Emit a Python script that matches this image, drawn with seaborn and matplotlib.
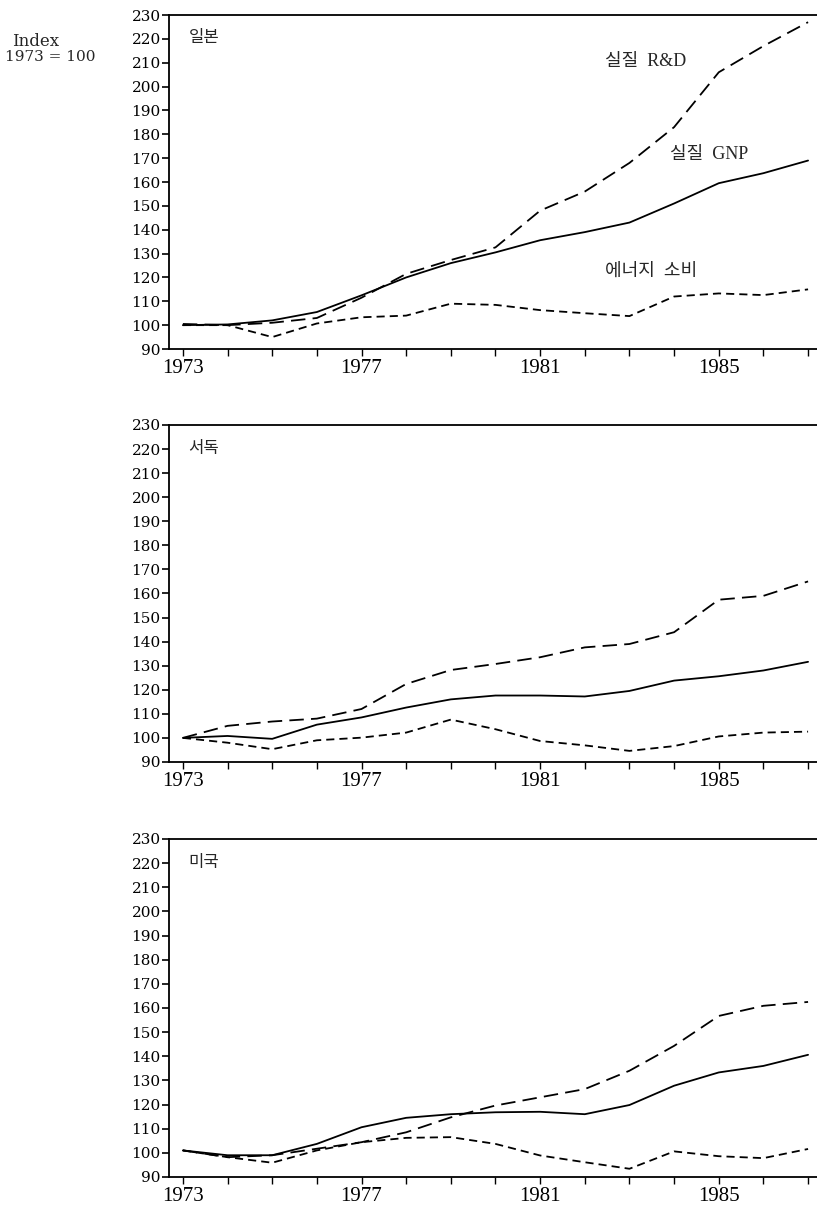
import matplotlib
matplotlib.use("Agg")
import matplotlib.pyplot as plt
import seaborn as sns
import pandas as pd

# Annual index values, 1973 = 100
years = list(range(1973, 1988))

japan_gnp = [100, 100.3, 102, 105.5, 112.5, 120, 126, 130.5, 135.6, 139, 143, 151, 159.5, 163.7, 169]
japan_rnd = [100.5, 100, 101, 103, 111.5, 121.5, 127.3, 132.6, 148, 156, 168, 183, 206, 217, 227]
japan_energy = [100, 100, 95, 100.7, 103.3, 104, 109, 108.5, 106.3, 105, 103.8, 112, 113.3, 112.6, 115]

wgermany_gnp = [100, 100.8, 99.6, 105.5, 108.5, 112.6, 116, 117.6, 117.6, 117.2, 119.5, 123.8, 125.6, 128, 131.6]
wgermany_rnd = [100, 105, 106.8, 108, 112, 122.4, 128.2, 130.7, 133.5, 137.6, 139, 143.9, 157.4, 159, 165]
wgermany_energy = [100, 98, 95.3, 99, 100.1, 102.2, 107.6, 103.6, 98.7, 96.9, 94.6, 96.6, 100.6, 102.2, 102.6]

usa_gnp = [101, 99, 99, 103.7, 110.6, 114.5, 116, 116.8, 117, 116, 119.8, 127.8, 133.3, 136, 140.6]
usa_rnd = [101, 98.2, 99, 101.7, 104.4, 108.5, 114.7, 119.6, 123, 126.4, 134, 144.3, 156.7, 160.9, 162.5]
usa_energy = [101, 98.2, 95.9, 101, 104.4, 106.2, 106.5, 103.7, 98.9, 96.1, 93.4, 100.6, 98.6, 97.8, 101.6]

series_names = ["실질 GNP", "실질 R&D", "에너지 소비"]
panel_titles = ["일본", "서독", "미국"]
panel_data = [
    (japan_gnp, japan_rnd, japan_energy),
    (wgermany_gnp, wgermany_rnd, wgermany_energy),
    (usa_gnp, usa_rnd, usa_energy),
]

y_ticks = list(range(90, 231, 10))
x_label_years = [1973, 1977, 1981, 1985]

sns.set_style("ticks")
plt.rcParams["font.family"] = ["Liberation Serif", "Noto Sans CJK KR", "DejaVu Sans"]

fig = plt.figure(figsize=(8.17, 12.11), dpi=100)

# axes boxes in figure fractions: [left, bottom, width, height]
ax_boxes = [
    [0.2069, 0.7118, 0.7931, 0.2758],
    [0.2069, 0.3708, 0.7931, 0.2783],
    [0.2069, 0.0281, 0.7931, 0.2791],
]

dash_map = {"실질 GNP": "", "실질 R&D": (8, 4), "에너지 소비": (4.5, 2.8)}

for box, title, values in zip(ax_boxes, panel_titles, panel_data):
    ax = fig.add_axes(box)
    frames = []
    for name, vals in zip(series_names, values):
        frames.append(pd.DataFrame({"year": years, "index": vals, "series": name}))
    df = pd.concat(frames, ignore_index=True)
    sns.lineplot(data=df, x="year", y="index", style="series", dashes=dash_map,
                 color="black", linewidth=1.3, legend=False, ax=ax)

    ax.set_xlim(1972.69, 1987.2)
    ax.set_ylim(90, 230)
    ax.set_yticks(y_ticks)
    ax.set_yticklabels([str(v) for v in y_ticks], fontsize=11, family="DejaVu Serif")
    ax.set_xticks(years)
    ax.set_xticklabels([str(y) if y in x_label_years else "" for y in years], fontsize=15)
    ax.set_xlabel("")
    ax.set_ylabel("")
    ax.tick_params(axis="y", direction="out", length=5, width=1.2, pad=1, colors="black")
    ax.tick_params(axis="x", direction="out", length=5, width=1.0, pad=2, colors="black")
    for side in ("left", "bottom", "top"):
        ax.spines[side].set_visible(True)
        ax.spines[side].set_linewidth(1.3)
        ax.spines[side].set_color("black")
    ax.spines["right"].set_visible(False)
    ax.grid(False)

    ax.text(0.03, 0.93, title, transform=ax.transAxes, fontsize=12,
            ha="left", va="center")

    if title == "일본":
        ax.text(1982.45, 210.5, "실질  R&D", fontsize=13, ha="left", va="center")
        ax.text(1983.9, 171.5, "실질  GNP", fontsize=13, ha="left", va="center")
        ax.text(1982.45, 122.5, "에너지  소비", fontsize=13, ha="left", va="center")

fig.text(12 / 817, 1 - 41 / 1211, "Index", fontsize=12, ha="left", va="center",
         family="DejaVu Serif")
fig.text(5 / 817, 1 - 57 / 1211, "1973 = 100", fontsize=11, ha="left", va="center",
         family="DejaVu Serif")

fig.savefig("out.png", dpi=100, facecolor="white")
